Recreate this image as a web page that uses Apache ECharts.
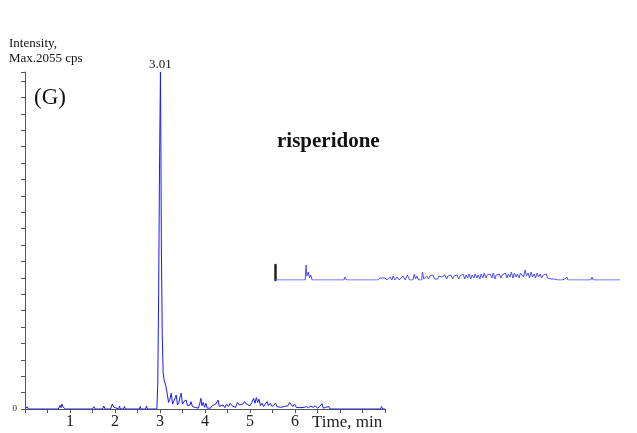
<!DOCTYPE html>
<html>
<head>
<meta charset="utf-8">
<script src="https://cdn.jsdelivr.net/npm/echarts@6/dist/echarts.min.js"></script>
<style>
html,body{margin:0;padding:0;background:#fff;}
#chart{width:637px;height:433px;}
</style>
</head>
<body>
<div id="chart"></div>
<script>
// Main chromatogram (time in min, intensity in cps)
var mainTime = [
0, 0.03, 0.05, 0.07, 0.74, 0.78, 0.80, 0.82, 0.85, 0.88,
0.90, 1.50, 1.53, 1.56, 1.72, 1.75, 1.78, 1.90, 1.94, 1.97,
1.99, 2.08, 2.10, 2.12, 2.19, 2.21, 2.23, 2.54, 2.56, 2.58,
2.68, 2.70, 2.72, 2.93, 2.95, 2.97, 2.99, 3.01, 3.02, 3.03,
3.05, 3.07, 3.09, 3.11, 3.13, 3.16, 3.19, 3.22, 3.25, 3.28,
3.31, 3.34, 3.36, 3.39, 3.42, 3.45, 3.47, 3.50, 3.53, 3.56,
3.58, 3.61, 3.64, 3.67, 3.69, 3.72, 3.75, 3.78, 3.82, 3.85,
3.88, 3.91, 3.93, 3.96, 3.99, 4.02, 4.05, 4.08, 4.12, 4.16,
4.20, 4.24, 4.29, 4.32, 4.36, 4.40, 4.44, 4.48, 4.52, 4.56,
4.60, 4.64, 4.68, 4.72, 4.76, 4.80, 4.84, 4.88, 4.92, 4.96,
5.00, 5.04, 5.08, 5.11, 5.14, 5.17, 5.20, 5.23, 5.27, 5.30,
5.34, 5.38, 5.41, 5.45, 5.49, 5.53, 5.57, 5.60, 5.64, 5.68,
5.72, 5.76, 5.80, 5.84, 5.88, 5.91, 5.95, 5.99, 6.03, 6.07,
6.11, 6.15, 6.20, 6.25, 6.30, 6.35, 6.40, 6.45, 6.50, 6.55,
6.60, 6.63, 6.68, 6.72, 6.75, 6.78, 7.30, 7.33, 7.36, 7.46,
7.48, 7.50, 7.60, 7.63, 7.66, 7.76, 7.78, 7.80, 7.90, 7.92,
7.95, 8.00
];
var mainIntensity = [
0, 0, 14, 0, 0, 22, 8, 30, 10, 18,
0, 0, 14, 0, 0, 18, 0, 0, 30, 12,
0, 0, 18, 0, 0, 15, 0, 0, 15, 0,
0, 18, 0, 0, 150, 700, 1500, 2055, 1600, 1000,
450, 220, 180, 170, 140, 95, 40, 60, 96, 30,
20, 70, 85, 25, 40, 80, 96, 30, 45, 35,
55, 20, 30, 25, 45, 15, 20, 10, 15, 5,
30, 65, 20, 40, 10, 35, 5, 15, 5, 20,
10, 30, 55, 15, 10, 25, 8, 30, 15, 35,
20, 30, 10, 40, 25, 35, 30, 45, 30, 38,
20, 40, 65, 35, 70, 40, 60, 20, 35, 15,
30, 45, 20, 35, 15, 25, 35, 15, 25, 10,
20, 15, 25, 20, 40, 30, 15, 30, 10, 20,
8, 18, 10, 15, 8, 18, 10, 20, 5, 15,
33, 5, 10, 0, 15, 0, 0, 8, 0, 0,
10, 0, 0, 10, 0, 0, 8, 0, 0, 15,
0, 0
];
// Inset trace (risperidone), relative units
var insetTime = [
0, 0.25, 0.27, 0.29, 0.70, 0.72, 0.74, 0.77, 0.80, 0.83,
0.86, 1.02, 1.04, 1.06, 1.60, 1.62, 1.66, 1.70, 1.72, 2.03,
2.05, 2.07, 2.32, 2.34, 2.38, 2.44, 2.48, 2.55, 2.60, 2.67,
2.71, 2.74, 2.78, 2.83, 2.88, 2.97, 3.02, 3.07, 3.12, 3.20,
3.23, 3.26, 3.29, 3.33, 3.40, 3.42, 3.45, 3.49, 3.52, 3.56,
3.59, 3.63, 3.66, 3.70, 3.73, 3.77, 3.80, 3.84, 3.87, 3.91,
3.94, 3.98, 4.01, 4.05, 4.08, 4.12, 4.15, 4.19, 4.22, 4.26,
4.29, 4.33, 4.36, 4.40, 4.43, 4.47, 4.50, 4.54, 4.57, 4.61,
4.64, 4.68, 4.71, 4.75, 4.78, 4.82, 4.85, 4.89, 4.92, 4.96,
4.99, 5.03, 5.06, 5.10, 5.13, 5.17, 5.20, 5.24, 5.27, 5.31,
5.34, 5.38, 5.41, 5.45, 5.48, 5.52, 5.55, 5.59, 5.62, 5.66,
5.69, 5.73, 5.76, 5.80, 5.83, 5.87, 5.90, 5.94, 5.97, 6.01,
6.04, 6.08, 6.11, 6.15, 6.18, 6.22, 6.25, 6.29, 6.32, 6.36,
6.40, 6.44, 6.48, 6.52, 6.56, 6.60, 6.66, 6.72, 6.75, 6.77,
6.79, 7.12, 7.15, 7.18, 7.32, 7.35, 7.38, 7.50, 7.52, 7.54,
8.00
];
var insetValue = [
0, 0, 2, 0, 0, 15, 4, 8, 2, 5,
0, 0, 1, 0, 0, 3, 0, 2, 0, 0,
1, 0, 0, 2, 0, 2, 0, 2, 0, 3,
0, 4, 0, 3, 0, 4, 0, 5, 0, 0,
6, 1, 4, 0, 0, 8, 1, 3, 4, 1,
4, 2, 5, 1, 3, 1, 4, 2, 3, 1,
5, 1, 4, 2, 5, 1, 4, 2, 5, 1,
4, 2, 6, 1, 5, 2, 6, 1, 5, 2,
6, 2, 5, 1, 6, 2, 7, 2, 5, 3,
6, 2, 7, 1, 5, 3, 6, 2, 5, 3,
7, 2, 6, 3, 8, 2, 7, 3, 6, 2,
7, 9, 3, 10, 4, 7, 2, 8, 3, 6,
2, 7, 3, 6, 2, 5, 3, 6, 2, 4,
1, 3, 1, 2, 0, 2, 0, 1, 0, 3,
0, 0, 2, 0, 0, 3, 0, 0, 2, 0,
0
];
var xTickLabels = ['1', '2', '3', '4', '5', '6'];
var peakTime = 3.01, peakLabel = '3.01', maxIntensity = 2055;

function zip(a, b) { var r = []; for (var i = 0; i < a.length; i++) r.push([a[i], b[i]]); return r; }

var serif = '"Liberation Serif", "Times New Roman", serif';
var chart = echarts.init(document.getElementById('chart'), null, {renderer: 'canvas'});
chart.setOption({
  animation: false,
  backgroundColor: '#fff',
  grid: [
    {left: 25, right: 252, top: 72, bottom: 24, containLabel: false},
    {left: 275, right: 17, top: 265, height: 15, containLabel: false}
  ],
  xAxis: [
    {
      gridIndex: 0, type: 'value', min: 0, max: 8, interval: 0.5,
      axisLine: {show: true, lineStyle: {color: '#555', width: 1}},
      axisTick: {show: true, length: 4, lineStyle: {color: '#555'}},
      splitLine: {show: false},
      axisLabel: {
        margin: 5, fontFamily: serif, fontSize: 16, color: '#222',
        formatter: function (v) {
          var s = String(v);
          return xTickLabels.indexOf(s) >= 0 ? s : '';
        }
      }
    },
    {
      gridIndex: 1, type: 'value', min: 0, max: 8, show: false
    }
  ],
  yAxis: [
    {
      gridIndex: 0, type: 'value', min: 0, max: maxIntensity, interval: 100,
      axisLine: {show: true, lineStyle: {color: '#555', width: 1}},
      axisTick: {show: true, length: 4, lineStyle: {color: '#555'}},
      splitLine: {show: false},
      axisLabel: {
        margin: 8, fontFamily: serif, fontSize: 9, color: '#222',
        formatter: function (v) { return v === 0 ? '0' : ''; }
      }
    },
    {
      gridIndex: 1, type: 'value', min: 0, max: 15,
      axisLine: {show: true, lineStyle: {color: '#222', width: 2.5}},
      axisTick: {show: false}, axisLabel: {show: false}, splitLine: {show: false}
    }
  ],
  series: [
    {
      type: 'line', xAxisIndex: 0, yAxisIndex: 0,
      data: zip(mainTime, mainIntensity),
      showSymbol: false, symbol: 'none',
      lineStyle: {color: '#1a1aff', width: 1},
      markPoint: {
        symbol: 'circle', symbolSize: 1,
        itemStyle: {color: 'rgba(0,0,0,0)'},
        label: {show: true, position: 'top', distance: 0, formatter: peakLabel,
                fontFamily: serif, fontSize: 13, color: '#111'},
        data: [{coord: [peakTime, maxIntensity]}]
      }
    },
    {
      type: 'line', xAxisIndex: 1, yAxisIndex: 1,
      data: zip(insetTime, insetValue),
      showSymbol: false, symbol: 'none',
      lineStyle: {color: '#4d4dff', width: 1}
    }
  ],
  graphic: [
    {type: 'text', left: 9, top: 36, style: {text: 'Intensity,\nMax.2055 cps', font: '13px ' + serif, fill: '#111', lineHeight: 15}},
    {type: 'text', left: 34, top: 86, style: {text: '(G)', font: '23px ' + serif, fill: '#111'}},
    {type: 'text', left: 277, top: 131, style: {text: 'risperidone', font: 'bold 21px ' + serif, fill: '#111'}},
    {type: 'text', left: 312, top: 414, style: {text: 'Time, min', font: '17px ' + serif, fill: '#222'}}
  ]
});
</script>
</body>
</html>
